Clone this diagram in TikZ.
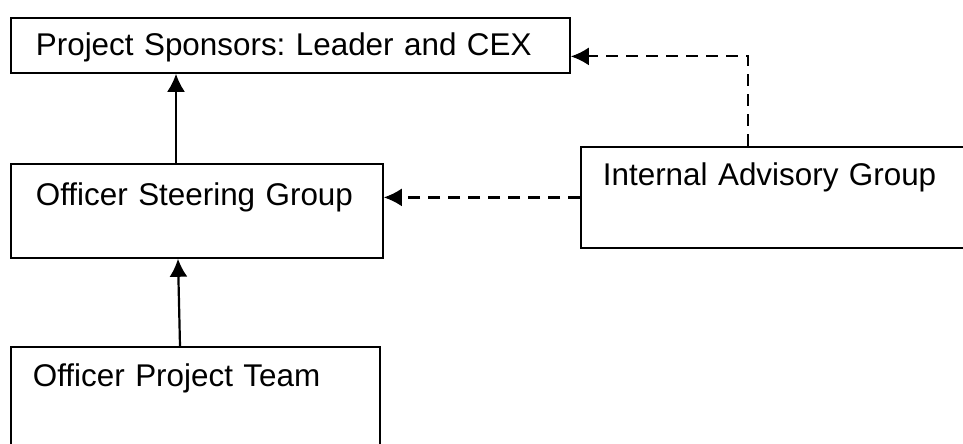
\documentclass[tikz,border=0pt]{standalone}
\usepackage{fontspec}
\setmainfont{Liberation Sans}
\usepackage{tikz}
\usetikzlibrary{calc,arrows.meta,positioning}
\frenchspacing

\begin{document}
\begin{tikzpicture}[x=0.5pt,y=-0.5pt,font=\fontsize{15.7}{18}\selectfont]

\tikzset{boxnode/.style={draw=black,line width=0.9pt,shape=rectangle,align=left,inner ysep=0pt,anchor=north west},
solidarrow/.style={line width=1.1pt,-{Latex[length=9pt,width=9pt]}},
dasharrow/.style={line width=1.1pt,dash pattern=on 6pt off 4pt,-{Latex[length=9pt,width=9pt]}}}

% Canvas
\clip (0,0) rectangle (963,444);

% Boxes
\node (spons) [boxnode,inner xsep=12.5pt,text width=254.5pt,text height=19pt,text depth=8.5pt] at (10,17) {Project Sponsors: Leader and CEX};
\node (steer) [boxnode,inner xsep=12.5pt,text width=161pt,text height=21pt,text depth=26pt] at (10,163) {Officer Steering Group};
\node (adv) [boxnode,inner xsep=11pt,text width=178pt,text height=19.5pt,text depth=31pt] at (580,146) {Internal Advisory Group};
\node (team) [boxnode,inner xsep=11pt,text width=162.5pt,text height=20pt,text depth=40pt] at (10,346) {Officer Project Team};

% Reporting lines
\draw[solidarrow] ([xshift=85pt]team.north west) -- ([xshift=84pt]steer.south west);
\draw[solidarrow] ([xshift=83pt]steer.north west) -- ([xshift=83pt]spons.south west);

% Advice
\coordinate (advtop) at ([xshift=84pt]adv.north west);
\draw[dasharrow] (adv.west) -- (adv.west -| steer.east);
\draw[dasharrow] (advtop) |- ([yshift=-5.5pt]spons.east);

\end{tikzpicture}
\end{document}
